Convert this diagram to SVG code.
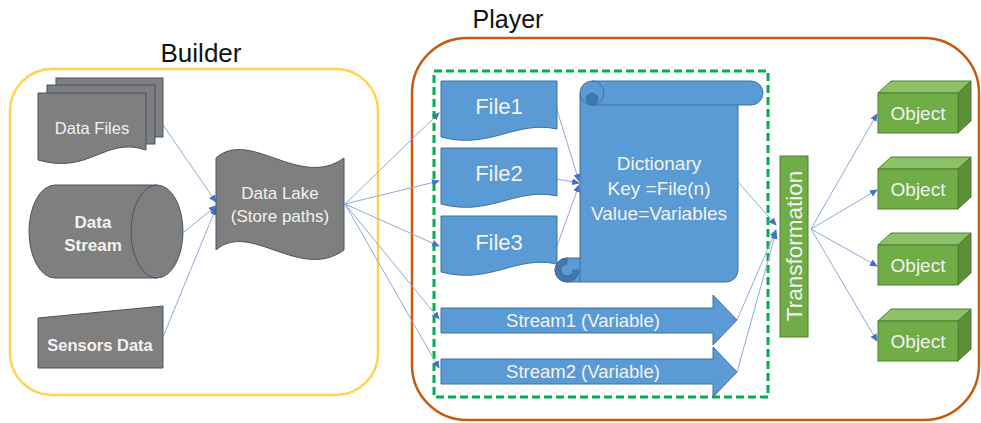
<svg xmlns="http://www.w3.org/2000/svg" width="981" height="423" viewBox="0 0 981 423">
<defs>
<marker id="ah" markerWidth="8" markerHeight="7" refX="7" refY="3.5" orient="auto" markerUnits="userSpaceOnUse">
<path d="M0,0 L8,3.5 L0,7 Z" fill="#4472C4"/>
</marker>
<style>
.title{font-family:"Liberation Sans",Arial,sans-serif;fill:#111;}
.gray{fill:#7F7F7F;stroke:#44546A;stroke-width:1;}
.blue{fill:#5B9BD5;stroke:#41719C;stroke-width:1;}
.dblue{fill:#3F77AE;stroke:#41719C;stroke-width:1;}
.grn{fill:#70AD47;stroke:#507E32;stroke-width:1;}
.grnT{fill:#8CC168;stroke:#507E32;stroke-width:1;}
.grnR{fill:#5B8F38;stroke:#507E32;stroke-width:1;}
.t{font-family:"Liberation Sans",Arial,sans-serif;fill:#F2F2F2;text-anchor:middle;}
.b{font-weight:bold;}
.con{fill:none;stroke:#8FAADC;stroke-width:1;marker-end:url(#ah);}
</style>
</defs>
<rect x="0" y="0" width="981" height="423" fill="#FFFFFF"/>

<g id="builder">
<rect x="10" y="69" width="368" height="326" rx="42" fill="none" stroke="#FFD54F" stroke-width="2.5"/>
<text class="title" x="201" y="62" font-size="26" text-anchor="middle">Builder</text>
</g>
<g id="player">
<rect x="412" y="38" width="567" height="382" rx="55" fill="none" stroke="#C55A11" stroke-width="2.5"/>
<text class="title" x="508" y="28" font-size="25" text-anchor="middle">Player</text>
</g>
<g id="player-group">
<rect x="434" y="71" width="334" height="326" fill="none" stroke="#00B050" stroke-width="3" stroke-dasharray="8 4"/>
</g>

<g id="connectors">
<line class="con" x1="163" y1="125" x2="216" y2="202"/>
<line class="con" x1="184" y1="232" x2="216" y2="206"/>
<line class="con" x1="163" y1="337" x2="216" y2="208"/>
<line class="con" x1="345" y1="204" x2="439" y2="113"/>
<line class="con" x1="345" y1="204" x2="439" y2="181"/>
<line class="con" x1="345" y1="204" x2="439" y2="246"/>
<line class="con" x1="345" y1="204" x2="439" y2="319"/>
<line class="con" x1="345" y1="204" x2="439" y2="368"/>
<line class="con" x1="557" y1="110" x2="579" y2="181"/>
<line class="con" x1="557" y1="179" x2="579" y2="183"/>
<line class="con" x1="557" y1="246" x2="579" y2="185"/>
<line class="con" x1="738" y1="182" x2="776" y2="225"/>
<line class="con" x1="737" y1="320" x2="776" y2="230"/>
<line class="con" x1="737" y1="372" x2="776" y2="232"/>
<line class="con" x1="811" y1="229" x2="877" y2="114"/>
<line class="con" x1="811" y1="229" x2="877" y2="190"/>
<line class="con" x1="811" y1="229" x2="877" y2="266"/>
<line class="con" x1="811" y1="229" x2="877" y2="341"/>
</g>

<g id="data-files">
<rect class="gray" x="56" y="78" width="107" height="59"/>
<rect class="gray" x="47" y="85" width="108" height="59"/>
<path class="gray" d="M38,93 H146 V150 C105,136 90,175 38,160 Z"/>
<text class="t" x="92" y="134" font-size="16.5">Data Files</text>
</g>

<g id="data-stream">
<path class="gray" d="M55,185 H157 A26,46.5 0 0 1 157,278 H55 A26,46.5 0 0 1 55,185 Z"/>
<path d="M157,185 A26,46.5 0 0 0 157,278" fill="none" stroke="#44546A" stroke-width="1"/>
<text class="t b" x="93" y="228" font-size="17">Data</text>
<text class="t b" x="93" y="251" font-size="17">Stream</text>
</g>

<g id="sensors-data">
<path class="gray" d="M38,318 L163,306 L163,368 L38,368 Z"/>
<text class="t b" x="100" y="351" font-size="16.5">Sensors Data</text>
</g>

<g id="data-lake">
<path class="gray" d="M216,158 C250,128 300,190 344,158 L344,250 C300,282 250,220 216,250 Z"/>
<text class="t" x="280" y="199" font-size="17">Data Lake</text>
<text class="t" x="280" y="222" font-size="17">(Store paths)</text>
</g>

<g id="file1">
<path class="blue" d="M441,81 H557 V129 C515,120 490,150 441,137 Z"/>
<text class="t" x="499" y="114" font-size="22">File1</text>
</g>
<g id="file2">
<path class="blue" d="M441,148 H557 V196 C515,187 490,217 441,204 Z"/>
<text class="t" x="499" y="181" font-size="22">File2</text>
</g>
<g id="file3">
<path class="blue" d="M441,216 H557 V264 C515,255 490,285 441,272 Z"/>
<text class="t" x="499" y="250" font-size="22">File3</text>
</g>

<g id="dictionary">
<path class="blue" d="M580,93 L738,93 L738,270 A12,12 0 0 1 726,282 L567,282 A12,12 0 0 1 567,258 L580,258 Z"/>
<path class="dblue" d="M567,258 A12,12 0 1 0 579,270 L573,270 A6,6 0 1 1 567,264 Z"/>
<path d="M580,258 V282" fill="none" stroke="#41719C" stroke-width="1"/>
<path class="blue" d="M592,81 H751 A12,12 0 0 1 751,105 H592 A12,12 0 0 1 592,81 Z"/>
<path class="dblue" d="M592,93 A6,6 0 0 1 592,105 A6,6 0 0 1 592,93 Z"/>
<path d="M592,81 A12,12 0 0 1 592,105" fill="none" stroke="#41719C" stroke-width="1"/>
<text class="t" x="659" y="170" font-size="19">Dictionary</text>
<text class="t" x="659" y="195" font-size="19">Key =File(n)</text>
<text class="t" x="659" y="220" font-size="19">Value=Variables</text>
</g>

<g id="stream1">
<path class="blue" d="M441,308 H713 V295 L737,320 L713,345 V333 H441 Z"/>
<text class="t" x="583" y="327" font-size="18.5">Stream1 (Variable)</text>
</g>
<g id="stream2">
<path class="blue" d="M441,359 H713 V347 L737,372 L713,397 V384 H441 Z"/>
<text class="t" x="583" y="378" font-size="18.5">Stream2 (Variable)</text>
</g>

<g id="transformation">
<rect class="grn" x="780" y="156" width="28" height="181"/>
<text class="t" x="0" y="0" font-size="22.5" transform="translate(802,246) rotate(-90)">Transformation</text>
</g>

<g id="object1">
<polygon class="grnT" points="878,93 891,81 971,81 958,93"/>
<polygon class="grnR" points="958,93 971,81 971,121 958,133"/>
<rect class="grn" x="878" y="93" width="80" height="40"/>
<text class="t" x="918" y="120" font-size="19">Object</text>
</g>
<g id="object2">
<polygon class="grnT" points="878,169 891,157 971,157 958,169"/>
<polygon class="grnR" points="958,169 971,157 971,197 958,209"/>
<rect class="grn" x="878" y="169" width="80" height="40"/>
<text class="t" x="918" y="196" font-size="19">Object</text>
</g>
<g id="object3">
<polygon class="grnT" points="878,245 891,233 971,233 958,245"/>
<polygon class="grnR" points="958,245 971,233 971,273 958,285"/>
<rect class="grn" x="878" y="245" width="80" height="40"/>
<text class="t" x="918" y="272" font-size="19">Object</text>
</g>
<g id="object4">
<polygon class="grnT" points="878,321 891,309 971,309 958,321"/>
<polygon class="grnR" points="958,321 971,309 971,349 958,361"/>
<rect class="grn" x="878" y="321" width="80" height="40"/>
<text class="t" x="918" y="348" font-size="19">Object</text>
</g>
</svg>
